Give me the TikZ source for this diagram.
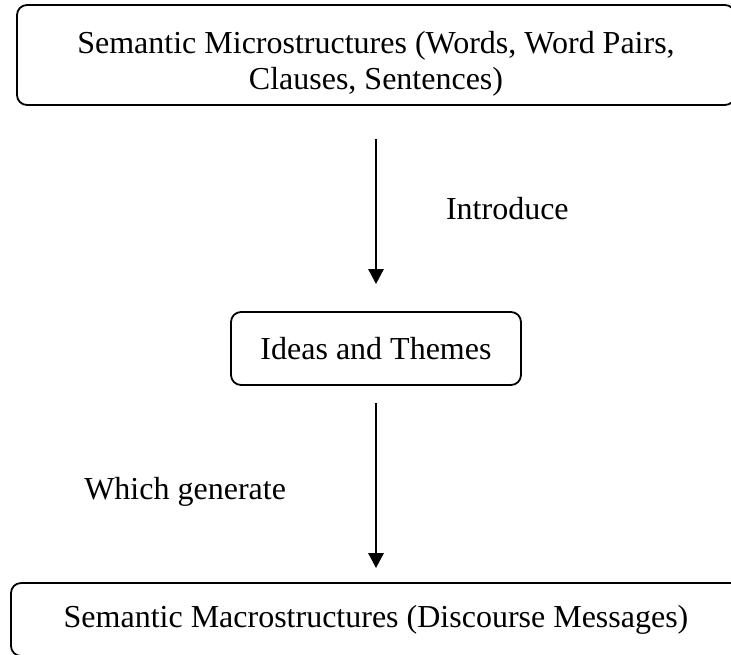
\documentclass[tikz,border=0pt]{standalone}
\usepackage{fontspec}
\setmainfont{Liberation Serif}
\usepackage{tikz}
\usetikzlibrary{arrows.meta, positioning}

\tikzset{
	levelbox/.style={draw, line width=0.9pt, rounded corners=5pt, align=center, inner sep=0pt},
	flow/.style={-{Triangle[length=7.5pt,width=7.5pt]}, line width=1.4pt}
}

\begin{document}
\begin{tikzpicture}[x=0.5pt, y=-0.5pt, node distance=2cm, on grid, font=\fontsize{16}{18}\selectfont]
			\useasboundingbox (0,0) rectangle (731,654);
			\node[levelbox, minimum width=359pt, minimum height=50pt] (micro) at (376,55)
				{\rule{0pt}{20pt}Semantic Microstructures (Words, Word Pairs,\\ Clauses, Sentences)};
			\node[levelbox, minimum width=145pt, minimum height=36.5pt] (ideas) [below=146.75pt of micro] {Ideas and Themes};
			\node[levelbox, minimum width=365pt, minimum height=36.5pt] (macro) [below=135.5pt of ideas] {Semantic Macrostructures (Discourse Messages)};
			\path[flow]
			(micro) edge[shorten <=16.5pt, shorten >=13.5pt] node[anchor=west, xshift=31pt] {Introduce} (ideas)
			(ideas) edge[shorten <=8.5pt, shorten >=7pt] node[anchor=east, xshift=-41pt, yshift=-4pt] {Which generate} (macro);
		\end{tikzpicture}
\end{document}
